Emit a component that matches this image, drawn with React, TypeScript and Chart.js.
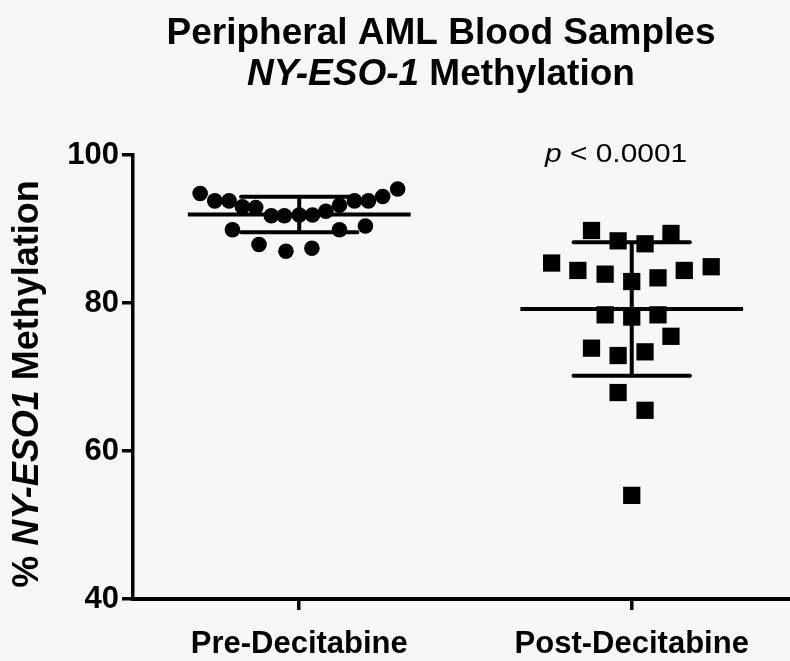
import { useEffect, useRef } from 'react';
import { Chart, registerables } from 'chart.js';

Chart.register(...registerables);

// Group labels and y-axis ticks
const groups = ['Pre-Decitabine', 'Post-Decitabine'];
const yTicks = [40, 60, 80, 100];

// % NY-ESO-1 methylation per sample
const preValues = [94.8, 93.8, 93.8, 93.0, 92.9, 91.8, 91.8, 91.9, 91.9, 92.4, 93.2, 93.8, 93.8, 94.4, 95.4, 89.9, 87.9, 87.0, 87.4, 89.9, 90.4];
const postValues = [89.8, 88.4, 88.0, 89.4, 85.4, 84.4, 83.9, 82.9, 83.4, 84.4, 84.9, 78.4, 78.1, 78.4, 73.9, 72.9, 73.4, 75.5, 67.9, 65.5, 54.0];

// Horizontal scatter spread of each sample around its group
const preJitter = [-0.298, -0.254, -0.211, -0.171, -0.131, -0.084, -0.045, 0, 0.04, 0.08, 0.121, 0.166, 0.208, 0.251, 0.296, -0.201, -0.121, -0.04, 0.038, 0.121, 0.199];
const postJitter = [-0.121, -0.041, 0.04, 0.118, -0.241, -0.162, -0.08, 0, 0.079, 0.158, 0.239, -0.08, 0, 0.079, -0.121, -0.041, 0.04, 0.118, -0.041, 0.04, 0];

const pValueText = '< 0.0001';

const FONT = '"Liberation Sans", Arial, Helvetica, sans-serif';

const mean = (a: number[]) => a.reduce((s, v) => s + v, 0) / a.length;
const sd = (a: number[]) => {
  const m = mean(a);
  return Math.sqrt(a.reduce((s, v) => s + (v - m) * (v - m), 0) / (a.length - 1));
};

type Run = { text: string; font: string };

function drawRuns(ctx: CanvasRenderingContext2D, runs: Run[], x: number, y: number, align: 'center' | 'left', scaleX = 1) {
  let total = 0;
  const widths = runs.map((r) => {
    ctx.font = r.font;
    const w = ctx.measureText(r.text).width;
    total += w;
    return w;
  });
  ctx.save();
  ctx.translate(x, y);
  ctx.scale(scaleX, 1);
  let cx = align === 'center' ? -total / 2 : 0;
  ctx.textAlign = 'left';
  ctx.textBaseline = 'alphabetic';
  runs.forEach((r, i) => {
    ctx.font = r.font;
    ctx.fillText(r.text, cx, 0);
    cx += widths[i];
  });
  ctx.restore();
}

const backgroundPlugin = {
  id: 'paper',
  beforeDraw(chart: any) {
    const { ctx, width, height } = chart;
    ctx.save();
    ctx.fillStyle = '#f7f7f7';
    ctx.fillRect(0, 0, width, height);
    ctx.restore();
  },
};

// Mean line with ±SD whiskers for each group
const meanSdPlugin = {
  id: 'meanSd',
  afterDatasetsDraw(chart: any) {
    const { ctx } = chart;
    const x = chart.scales.x;
    const y = chart.scales.y;
    const sets = [preValues, postValues];
    ctx.save();
    ctx.strokeStyle = '#000';
    ctx.lineWidth = 4;
    sets.forEach((vals, i) => {
      const c = i + 1;
      const m = mean(vals);
      const s = sd(vals);
      const xc = x.getPixelForValue(c);
      const ym = y.getPixelForValue(m);
      const yt = y.getPixelForValue(m + s);
      const yb = y.getPixelForValue(m - s);
      ctx.lineCap = 'butt';
      ctx.beginPath();
      ctx.moveTo(x.getPixelForValue(c - 0.335), ym);
      ctx.lineTo(x.getPixelForValue(c + 0.335), ym);
      ctx.moveTo(xc, yt);
      ctx.lineTo(xc, yb);
      ctx.stroke();
      ctx.lineCap = 'round';
      ctx.beginPath();
      ctx.moveTo(x.getPixelForValue(c - 0.175), yt);
      ctx.lineTo(x.getPixelForValue(c + 0.175), yt);
      ctx.moveTo(x.getPixelForValue(c - 0.175), yb);
      ctx.lineTo(x.getPixelForValue(c + 0.175), yb);
      ctx.stroke();
    });
    ctx.restore();
  },
};

// Titles and annotation with mixed italic runs
const textPlugin = {
  id: 'texts',
  afterDraw(chart: any) {
    const { ctx } = chart;
    ctx.save();
    ctx.fillStyle = '#000';
    drawRuns(ctx, [{ text: 'Peripheral AML Blood Samples', font: `bold 37px ${FONT}` }], 441, 44, 'center');
    drawRuns(
      ctx,
      [
        { text: 'NY-ESO-1', font: `italic bold 37px ${FONT}` },
        { text: ' Methylation', font: `bold 37px ${FONT}` },
      ],
      441,
      85,
      'center'
    );
    ctx.save();
    ctx.translate(38, 384);
    ctx.rotate(-Math.PI / 2);
    drawRuns(
      ctx,
      [
        { text: '% ', font: `bold 36px ${FONT}` },
        { text: 'NY-ESO1', font: `italic bold 36px ${FONT}` },
        { text: ' Methylation', font: `bold 36px ${FONT}` },
      ],
      0,
      0,
      'center'
    );
    ctx.restore();
    drawRuns(
      ctx,
      [
        { text: 'p', font: `italic 26px ${FONT}` },
        { text: ' ' + pValueText, font: `26px ${FONT}` },
      ],
      545,
      162,
      'left',
      1.15
    );
    ctx.restore();
  },
};

export default function App() {
  const canvasRef = useRef<HTMLCanvasElement | null>(null);

  useEffect(() => {
    if (!canvasRef.current) return;
    const chart = new Chart(canvasRef.current, {
      type: 'scatter',
      data: {
        datasets: [
          {
            label: groups[0],
            data: preValues.map((v, i) => ({ x: 1 + preJitter[i], y: v })),
            pointStyle: 'circle',
            pointRadius: 7.8,
            pointBackgroundColor: '#000',
            pointBorderColor: '#000',
            pointBorderWidth: 0,
          },
          {
            label: groups[1],
            data: postValues.map((v, i) => ({ x: 2 + postJitter[i], y: v })),
            pointStyle: 'rect',
            pointRadius: 12.2,
            pointBackgroundColor: '#000',
            pointBorderColor: '#000',
            pointBorderWidth: 0,
          },
        ],
      },
      options: {
        responsive: false,
        animation: false,
        layout: { autoPadding: false, padding: { top: 155, left: 0, right: 0, bottom: 0 } },
        plugins: {
          legend: { display: false },
          title: { display: false },
          tooltip: { enabled: false },
        },
        scales: {
          x: {
            type: 'linear',
            min: 0.5,
            max: 2.476,
            afterFit: (scale: any) => {
              scale.height = 62;
            },
            afterBuildTicks: (scale: any) => {
              scale.ticks = groups.map((_, i) => ({ value: i + 1 }));
            },
            ticks: {
              callback: (v: any) => groups[Math.round(Number(v)) - 1] ?? '',
              color: '#000',
              font: { family: FONT, size: 31, weight: 'bold' },
              padding: 16,
              maxRotation: 0,
              autoSkip: false,
            },
            grid: {
              drawOnChartArea: false,
              drawTicks: true,
              tickLength: 11,
              color: '#000',
              lineWidth: 3.5,
            },
            border: { display: true, color: '#000', width: 4 },
          },
          y: {
            type: 'linear',
            min: 40,
            max: 100,
            afterFit: (scale: any) => {
              scale.width = 133;
            },
            afterBuildTicks: (scale: any) => {
              scale.ticks = yTicks.map((v) => ({ value: v }));
            },
            ticks: {
              color: '#000',
              font: { family: FONT, size: 31, weight: 'bold' },
              padding: 3,
            },
            grid: {
              drawOnChartArea: false,
              drawTicks: true,
              tickLength: 11,
              color: '#000',
              lineWidth: 3.5,
            },
            border: { display: true, color: '#000', width: 3.5 },
          },
        },
      },
      plugins: [backgroundPlugin, meanSdPlugin, textPlugin],
    });
    return () => chart.destroy();
  }, []);

  return (
    <div style={{ position: 'absolute', left: 0, top: 0, width: 790, height: 661 }}>
      <canvas ref={canvasRef} width={790} height={661} style={{ display: 'block' }} />
    </div>
  );
}
